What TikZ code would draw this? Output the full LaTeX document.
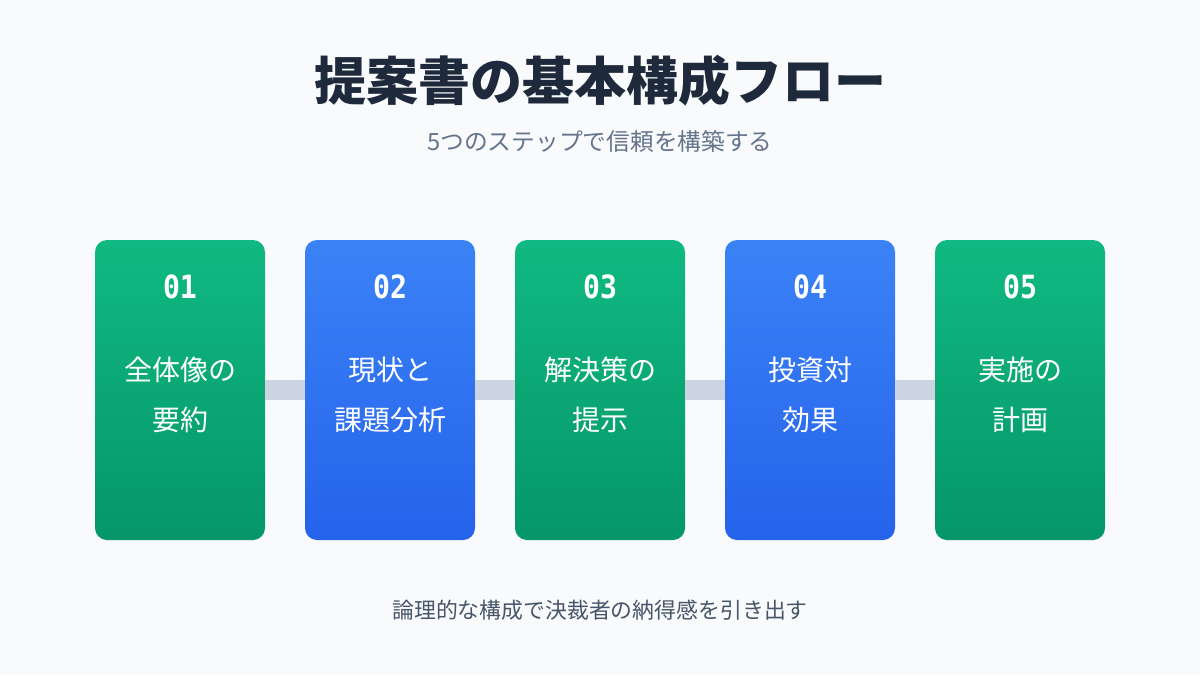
\documentclass[tikz,border=0pt]{standalone}
\usepackage{fontspec}
\setmainfont{Noto Sans CJK JP}
\newfontfamily\numfont{DejaVu Sans Mono}
\definecolor{bgcol}{HTML}{F8FAFC}
\definecolor{titlecol}{HTML}{1E293B}
\definecolor{subcol}{HTML}{64748B}
\definecolor{footcol}{HTML}{475569}
\definecolor{greentop}{HTML}{10B981}
\definecolor{greenbot}{HTML}{059669}
\definecolor{bluetop}{HTML}{3B82F6}
\definecolor{bluebot}{HTML}{2563EB}
\definecolor{barcol}{HTML}{CBD5E1}
\begin{document}
\begin{tikzpicture}[x=0.75pt, y=-0.75pt,
	stepbox/.style={rounded corners=9pt, minimum width=127.5pt, minimum height=225pt, inner sep=0pt},
	greenbox/.style={stepbox, top color=greentop, bottom color=greenbot},
	bluebox/.style={stepbox, top color=bluetop, bottom color=bluebot},
	numtext/.style={text=white, xscale=0.88, transform shape, font=\numfont\bfseries\fontsize{24}{28}\selectfont},
	labtext/.style={text=white, align=center, font=\fontsize{21}{37.5}\selectfont},
	connector/.style={barcol, line width=15pt}]
	%background
	\fill[bgcol] (0,0) rectangle (1200,675);
	
	\node[text=titlecol, font=\bfseries\fontsize{39}{44}\selectfont] (title) at (600,81) {提案書の基本構成フロー};
	\node[text=subcol, font=\fontsize{17.8}{20}\selectfont] (subtitle) at (600,141) {5つのステップで信頼を構築する};
	
	%steps
	\foreach \i/\x/\num/\lab/\sty in {1/180/01/{全体像の\\要約}/greenbox, 2/390/02/{現状と\\課題分析}/bluebox, 3/600/03/{解決策の\\提示}/greenbox, 4/810/04/{投資対\\効果}/bluebox, 5/1020/05/{実施の\\計画}/greenbox}{
		\node[\sty] (box\i) at (\x,390) {};
		\node[numtext] (num\i) at (\x,287) {\num};
		\node[labtext] (lab\i) at (\x,395) {\lab};
	}
	
	\foreach \i/\j in {1/2, 2/3, 3/4, 4/5}{
		\draw[connector] (box\i.east) -- (box\j.west);
	}
	
	\node[text=footcol, font=\fontsize{16.4}{20}\selectfont] (foot) at (600,610) {論理的な構成で決裁者の納得感を引き出す};
\end{tikzpicture}
\end{document}
